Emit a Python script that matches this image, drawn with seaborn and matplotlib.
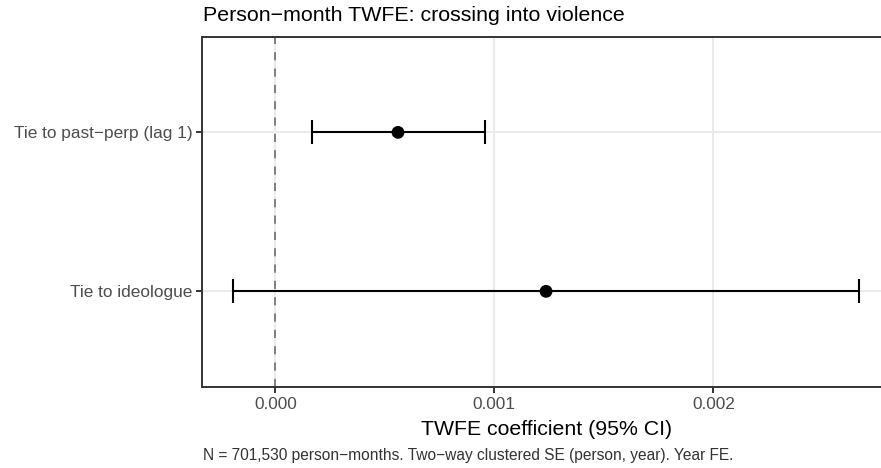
import numpy as np
import pandas as pd
import matplotlib
matplotlib.use("Agg")
import matplotlib.pyplot as plt
import seaborn as sns

# ---- data ----
terms = ["Tie to ideologue", "Tie to past\u2212perp (lag 1)"]
estimates = [0.001236, 0.000560]
ci_low = [-0.000192, 0.000168]
ci_high = [0.002667, 0.000956]
x_ticks = [0.000, 0.001, 0.002]
x_tick_labels = ["0.000", "0.001", "0.002"]

title = "Person\u2212month TWFE: crossing into violence"
x_label = "TWFE coefficient (95% CI)"
caption = "N = 701,530 person\u2212months. Two\u2212way clustered SE (person, year). Year FE."

df = pd.DataFrame({"term": terms, "estimate": estimates,
                   "lo": ci_low, "hi": ci_high})
df["pos"] = np.arange(1, len(df) + 1)

sns.set_theme(style="white")
plt.rcParams["font.family"] = ["Liberation Sans", "DejaVu Sans"]

W, H = 881, 468
fig = plt.figure(figsize=(W / 100, H / 100), dpi=100)

# x range with ggplot-like 5% expansion
xmin, xmax = df["lo"].min(), df["hi"].max()
pad = (xmax - xmin) * 0.05
xl = (xmin - pad, xmax + pad)
px_per_unit = 219000.0
ax_left = 202
ax_w = (xl[1] - xl[0]) * px_per_unit
ax_top, ax_bot = 37, 386.7
ax = fig.add_axes([ax_left / W, 1 - ax_bot / H, ax_w / W, (ax_bot - ax_top) / H])

grid_c = "#EBEBEB"
for xt in x_ticks:
    ax.axvline(xt, color=grid_c, lw=1.4, zorder=0)
for p in df["pos"]:
    ax.axhline(p, color=grid_c, lw=1.4, zorder=0)

ax.axvline(0, color="#7F7F7F", lw=1.4, ls=(0, (4.2, 4.2)), zorder=1)

ax.errorbar(df["estimate"], df["pos"],
            xerr=[df["estimate"] - df["lo"], df["hi"] - df["estimate"]],
            fmt="none", ecolor="black", elinewidth=1.5, capsize=8.3,
            capthick=1.5, zorder=2)
sns.scatterplot(data=df, x="estimate", y="pos", color="black", s=85,
                edgecolor="none", zorder=3, ax=ax, legend=False)

ax.set_xlim(*xl)
ax.set_ylim(0.4, len(df) + 0.6)
ax.set_xticks(x_ticks)
ax.set_xticklabels(x_tick_labels)
ax.set_yticks(df["pos"])
ax.set_yticklabels(df["term"])
ax.tick_params(axis="both", which="major", length=4.5, width=1.4,
               color="#333333", labelcolor="#4D4D4D", labelsize=12.4,
               direction="out", left=True, bottom=True)
ax.tick_params(axis="x", pad=3)
ax.tick_params(axis="y", pad=2.5)
ax.set_xlabel(x_label, fontsize=15.3, color="black", labelpad=6)
ax.set_ylabel("")
for sp in ax.spines.values():
    sp.set_color("#333333")
    sp.set_linewidth(1.4)
    sp.set_visible(True)
ax.grid(False)

fig.text(203 / W, 1 - 21 / H, title, fontsize=15.4, color="black",
         ha="left", va="baseline")
fig.text(203 / W, 1 - 460 / H, caption, fontsize=11.2, color="#333333",
         ha="left", va="baseline")

fig.savefig("out.png", dpi=100)
